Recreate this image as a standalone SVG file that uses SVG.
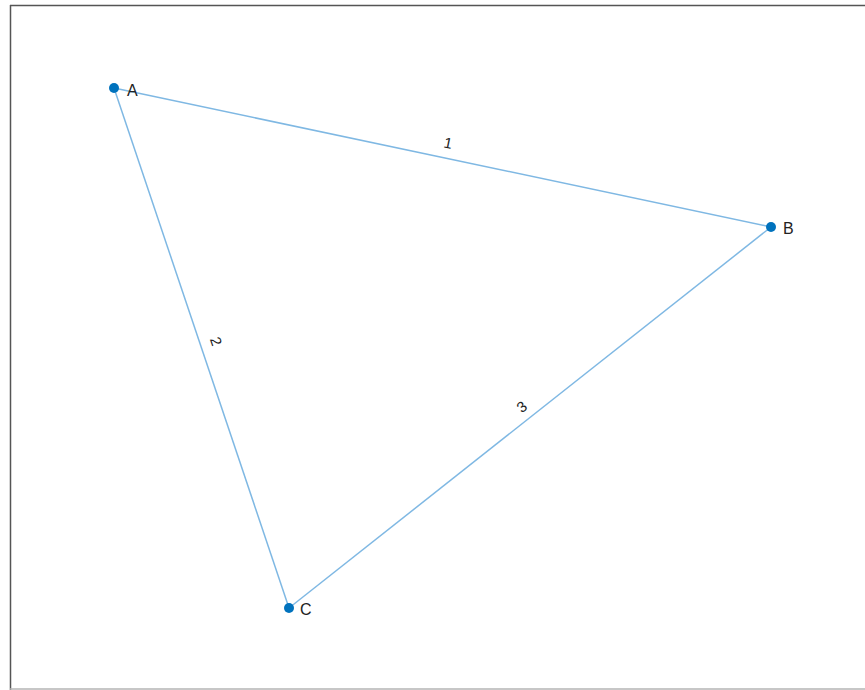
<svg xmlns="http://www.w3.org/2000/svg" width="865" height="690" viewBox="0 0 865 690">
<style>
.edge{stroke:#7fb8e3;stroke-width:1.5;fill:none}
.node{fill:#0072bd}
.nl{font-family:"Liberation Sans",Arial,sans-serif;font-size:16px;fill:#222}
.el{font-family:"Liberation Sans",Arial,sans-serif;font-size:15px;fill:#222;text-anchor:middle}
</style>
<rect width="865" height="690" fill="#fff"/>
<g id="frame">
<line x1="10" y1="5.5" x2="865" y2="5.5" stroke="#555" stroke-width="1.5"/>
<line x1="10.5" y1="5" x2="10.5" y2="690" stroke="#555" stroke-width="1.5"/>
<line x1="10" y1="689" x2="865" y2="689" stroke="#b5b5b5" stroke-width="1.5"/>
</g>
<g id="connectors">
<line class="edge" x1="114" y1="88" x2="771" y2="227"/>
<line class="edge" x1="114" y1="88" x2="289" y2="608"/>
<line class="edge" x1="289" y1="608" x2="771" y2="227"/>
<text class="el" transform="translate(447,148) rotate(11.9)">1</text>
<text class="el" transform="translate(211,343) rotate(71.4)">2</text>
<text class="el" transform="translate(525,411) rotate(-38.3)">3</text>
</g>
<g id="node-A"><circle class="node" cx="114" cy="88" r="5"/><text class="nl" x="127" y="96">A</text></g>
<g id="node-B"><circle class="node" cx="771" cy="227" r="5"/><text class="nl" x="783" y="234">B</text></g>
<g id="node-C"><circle class="node" cx="289" cy="608" r="5"/><text class="nl" x="300" y="615">C</text></g>
</svg>
